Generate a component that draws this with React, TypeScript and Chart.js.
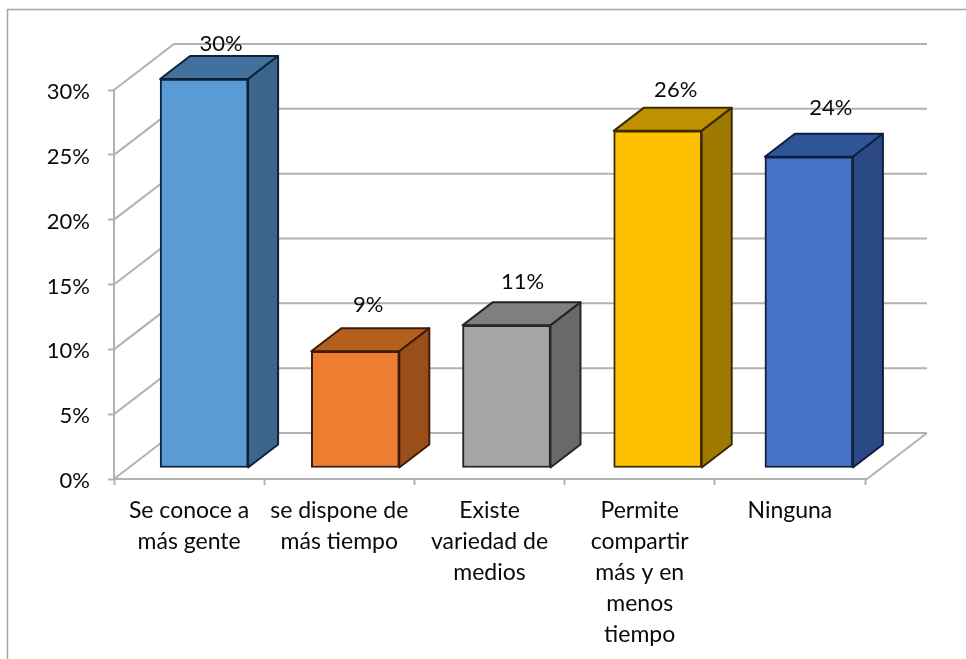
import React, { useEffect, useRef } from "react";
import { Chart, registerables } from "chart.js";

Chart.register(...registerables);

const categories = [
  ["Se conoce a", "más gente"],
  ["se dispone de", "más tiempo"],
  ["Existe", "variedad de", "medios"],
  ["Permite", "compartir", "más y en", "menos", "tiempo"],
  ["Ninguna"],
];
const values = [30, 9, 11, 26, 24];
const frontColors = ["#5B9BD5", "#ED7D31", "#A5A5A5", "#FFC000", "#4472C4"];
const topColors = ["#41719C", "#B5601F", "#7F7F7F", "#BF9000", "#2F5597"];
const sideColors = ["#3C658C", "#9A4E1A", "#696969", "#A07A00", "#2B4A85"];
const edgeColors = ["#0E2238", "#3A1C08", "#262626", "#3A2C00", "#0F1F3F"];
const labelLift = [35, 46, 43, 41, 49];
const labelShift = [17, 13, 16, 18, 22];

const FONT = "Lato, Carlito, 'Open Sans', sans-serif";
const TEXT = "#0A0A0A";
const GRID = "#B2B2B2";
const DEPTH_X = 60;
const DEPTH_Y = 46;
const RIGHT_EXTRA = 2;
const BAR_SHIFT_X = 15;
const BAR_SHIFT_Y = 11;
const BAR_SPREAD = 1;
const BAR_DX = 30;
const BAR_DY = 23;

const poly = (ctx: CanvasRenderingContext2D, pts: number[][], fill: string, stroke: string) => {
  ctx.beginPath();
  pts.forEach((p, i) => (i ? ctx.lineTo(p[0], p[1]) : ctx.moveTo(p[0], p[1])));
  ctx.closePath();
  ctx.fillStyle = fill;
  ctx.fill();
  ctx.strokeStyle = stroke;
  ctx.lineWidth = 2;
  ctx.lineJoin = "round";
  ctx.stroke();
};

const box3d = {
  id: "box3d",
  afterDatasetsUpdate(chart: any) {
    chart.getDatasetMeta(0).data.forEach((bar: any, i: number) => {
      bar.x += i * BAR_SPREAD;
    });
  },
  beforeDraw(chart: any) {
    const { ctx, width, height } = chart;
    ctx.save();
    ctx.strokeStyle = "#A6A6A6";
    ctx.lineWidth = 1.5;
    ctx.beginPath();
    ctx.moveTo(7.5, height);
    ctx.lineTo(7.5, 9.5);
    ctx.lineTo(width, 9.5);
    ctx.stroke();
    ctx.restore();
  },
  beforeDatasetsDraw(chart: any) {
    const { ctx, chartArea } = chart;
    const yScale = chart.scales.y;
    const backRight = chartArea.right + DEPTH_X + RIGHT_EXTRA;
    ctx.save();
    ctx.strokeStyle = GRID;
    ctx.lineWidth = 2;
    yScale.ticks.forEach((t: any) => {
      const y = yScale.getPixelForValue(t.value);
      ctx.beginPath();
      ctx.moveTo(chartArea.left, y);
      ctx.lineTo(chartArea.left + DEPTH_X, y - DEPTH_Y);
      ctx.lineTo(backRight, y - DEPTH_Y);
      ctx.stroke();
    });
    ctx.beginPath();
    ctx.moveTo(backRight, chartArea.bottom - DEPTH_Y);
    ctx.lineTo(chartArea.right + RIGHT_EXTRA, chartArea.bottom);
    ctx.lineTo(chartArea.right, chartArea.bottom);
    ctx.stroke();
    ctx.restore();

    ctx.save();
    ctx.translate(BAR_SHIFT_X, -BAR_SHIFT_Y);
    chart.getDatasetMeta(0).data.forEach((bar: any, i: number) => {
      const l = bar.x - bar.width / 2;
      const r = bar.x + bar.width / 2;
      const t = bar.y;
      const b = bar.base;
      poly(ctx, [[l, t], [l + BAR_DX, t - BAR_DY], [r + BAR_DX, t - BAR_DY], [r, t]], topColors[i], edgeColors[i]);
      poly(ctx, [[r, t], [r + BAR_DX, t - BAR_DY], [r + BAR_DX, b - BAR_DY], [r, b]], sideColors[i], edgeColors[i]);
    });
  },
  afterDatasetsDraw(chart: any) {
    const { ctx } = chart;
    ctx.restore();
    ctx.save();
    ctx.font = `22px ${FONT}`;
    ctx.fillStyle = TEXT;
    ctx.textAlign = "center";
    ctx.textBaseline = "middle";
    chart.getDatasetMeta(0).data.forEach((bar: any, i: number) => {
      const x = bar.x + BAR_SHIFT_X + labelShift[i];
      const y = bar.y - BAR_SHIFT_Y - labelLift[i];
      ctx.fillText(`${values[i]}%`, x, y);
    });
    ctx.restore();
  },
};

export default function App() {
  const ref = useRef<HTMLCanvasElement>(null);
  useEffect(() => {
    const chart = new Chart(ref.current as HTMLCanvasElement, {
      type: "bar",
      data: {
        labels: categories as any,
        datasets: [
          {
            data: values,
            backgroundColor: frontColors,
            borderColor: edgeColors,
            borderWidth: 2,
            borderSkipped: false,
            barThickness: 88,
            clip: false as any,
          },
        ],
      },
      options: {
        responsive: false,
        animation: false,
        layout: { padding: { left: 0, top: 90, right: 101, bottom: 0 } },
        plugins: { legend: { display: false }, tooltip: { enabled: false } },
        scales: {
          x: {
            afterFit: (s: any) => {
              s.height = 180;
            },
            grid: { drawOnChartArea: false, drawTicks: true, tickLength: 6, tickColor: GRID, tickWidth: 2 },
            border: { color: GRID, width: 2 },
            ticks: {
              color: TEXT,
              font: { family: FONT, size: 23, lineHeight: 1.35 },
              padding: 10,
              maxRotation: 0,
              minRotation: 0,
              autoSkip: false,
            },
          },
          y: {
            min: 0,
            max: 30,
            afterFit: (s: any) => {
              s.width = 114;
            },
            grid: { drawOnChartArea: false, drawTicks: true, tickLength: 6, tickColor: GRID, tickWidth: 2 },
            border: { color: GRID, width: 2 },
            ticks: {
              stepSize: 5,
              color: TEXT,
              font: { family: FONT, size: 22 },
              padding: 18,
              labelOffset: 2,
              callback: (v: any) => `${v}%`,
            },
          },
        },
      },
      plugins: [box3d],
    });
    return () => chart.destroy();
  }, []);
  return (
    <canvas
      ref={ref}
      width={966}
      height={659}
      style={{ position: "absolute", left: 0, top: 0, display: "block" }}
    />
  );
}
